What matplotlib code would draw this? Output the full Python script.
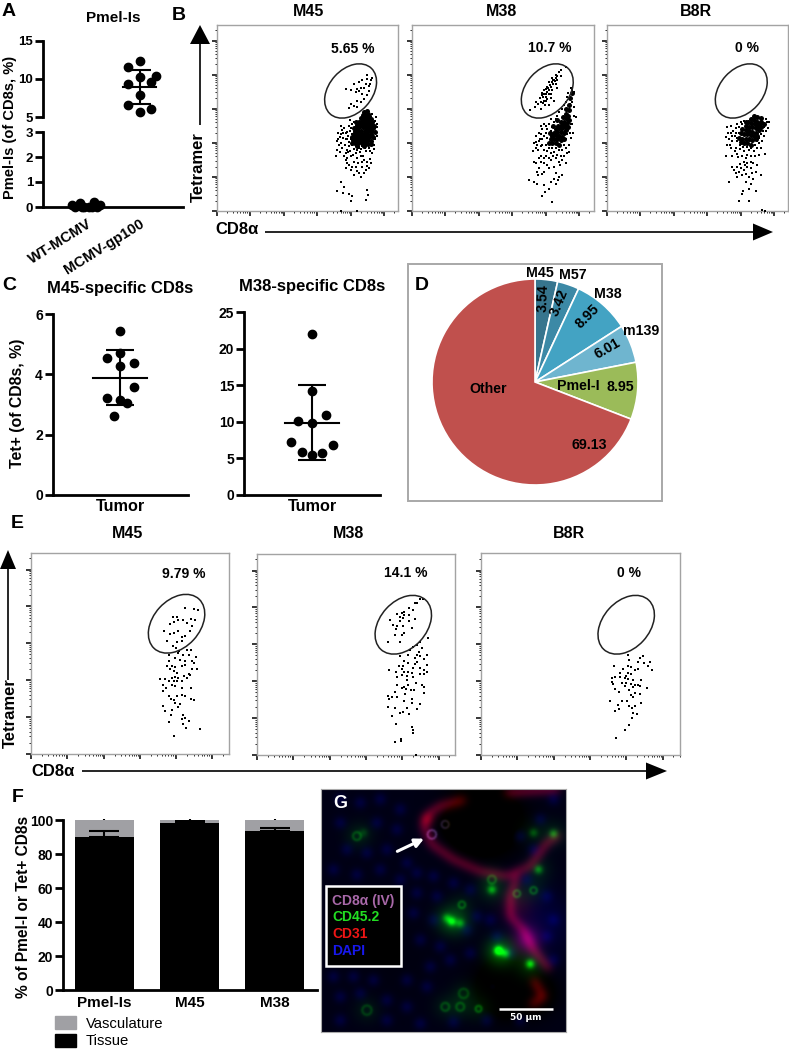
import numpy as np
import matplotlib
matplotlib.use("Agg")
import matplotlib.pyplot as plt
from matplotlib.patches import Ellipse, Rectangle, Polygon, Patch

plt.rcParams['font.family'] = ['Liberation Sans', 'DejaVu Sans']
W, H = 789, 1050
fig = plt.figure(figsize=(W/100, H/100), dpi=100)

# ---------- Panel A
A_cats = ['WT-MCMV', 'MCMV-gp100']
A_wt_x = [-0.29, -0.13, 0.13, 0.24, -0.22, -0.06, 0.03, 0.10, 0.19, -0.10]
A_wt_y = [0.08, 0.15, 0.21, 0.08, 0.02, 0.0, 0.02, 0.02, 0.02, 0.02]
A_gp_x = [0, -0.22, 0, 0.32, 0.22, -0.22, 0, -0.22, 0.22, 0]
A_gp_y = [12.3, 11.5, 10.2, 10.35, 9.55, 9.3, 7.85, 6.55, 6.1, 5.7]
A_gp_mean, A_gp_sd = 8.95, 2.27

# ---------- Panel C
C45_x = [0, 0, -13.3, 14, 0, 14, -13.3, 0, 7, -6.7]
C45_y = [5.43, 4.71, 4.53, 4.38, 4.27, 3.57, 3.2, 3.15, 3.05, 2.62]
C45_mean, C45_sd = 3.89, 0.91
C38_x = [0, 0, -13.7, 14, 0, -20.7, 20.7, -10.3, 10.3, 0]
C38_y = [22.08, 14.19, 10.17, 10.95, 9.85, 7.2, 6.8, 5.9, 5.7, 5.43]
C38_mean, C38_sd = 9.9, 5.15

# ---------- Panel D
D_labels = ['M45', 'M57', 'M38', 'm139', 'Pmel-I', 'Other']
D_values = [3.54, 3.42, 8.95, 6.01, 8.95, 69.13]
D_colors = ['#37758E', '#3C89A6', '#43A3C3', '#6FB5CF', '#9BBB59', '#C0504D']

# ---------- Panel F
F_cats = ['Pmel-Is', 'M45', 'M38']
F_tissue = [90.0, 98.2, 93.7]
F_vasc = [10.0, 1.8, 6.3]
F_err = [3.7, 1.0, 1.6]
F_vasc_err = [0.7, 0.5, 0.5]

# ---------- Flow cytometry events (decades CD8a, decades tetramer)
B45_core = [(4.40,2.90),(4.48,2.92),(4.52,2.85),(4.44,2.80),(4.36,2.82),(4.56,2.78),(4.30,2.72),(4.40,2.72),(4.50,2.70),(4.60,2.70),
 (4.24,2.62),(4.34,2.63),(4.44,2.62),(4.54,2.62),(4.64,2.60),(4.20,2.52),(4.30,2.54),(4.40,2.53),(4.50,2.52),(4.60,2.52),(4.70,2.50),
 (4.16,2.44),(4.26,2.45),(4.36,2.45),(4.46,2.44),(4.56,2.43),(4.66,2.42),(4.12,2.35),(4.22,2.36),(4.32,2.36),(4.42,2.36),(4.52,2.35),
 (4.62,2.34),(4.72,2.32),(4.10,2.26),(4.20,2.27),(4.30,2.27),(4.40,2.26),(4.50,2.26),(4.60,2.25),(4.14,2.17),(4.24,2.18),(4.34,2.18),
 (4.44,2.17),(4.54,2.17),(4.66,2.18),(4.08,2.08),(4.18,2.09),(4.28,2.09),(4.38,2.08),(4.50,2.08),(4.60,2.05),(4.03,2.0),(4.13,1.98),(4.23,1.98),
 (4.33,1.99),(4.43,1.98),(4.53,1.97),(4.62,1.96),(4.05,2.18),(4.1,2.42),(4.15,2.6),(4.2,1.9),(4.4,1.9)]
B45_pts = [(4.5,4.0),(4.35,3.83),(4.6,3.83),(4.45,3.73),(4.55,3.68),(4.25,3.78),(4.65,3.9),(4.4,3.61),(4.15,3.49),(4.25,3.52),(3.85,3.58),
 (4.0,3.55),(4.1,3.73),(4.5,3.39),(4.4,3.29),(4.2,3.24),(4.0,3.14),(4.1,3.09),(3.95,3.03),(4.3,3.19),(4.2,3.05),(4.55,3.53),(4.3,3.6),(4.48,3.88),
 (4.58,3.72),(4.35,3.42),(4.18,3.58),(3.7,2.5),(3.75,2.38),(3.62,2.3),(3.68,2.18),(3.58,2.05),(3.55,1.62),(3.6,1.78),(3.7,2.0),(3.78,2.15),
 (3.85,2.28),(3.9,2.1),(3.82,1.95),(3.75,1.85),(3.68,1.72),(3.85,1.7),(3.95,1.9),(3.98,1.75),(4.05,1.95),(4.1,1.82),(4.0,1.6),(3.9,1.55),(4.15,1.7),
 (4.25,1.85),(4.35,1.9),(4.45,1.75),(4.55,1.85),(4.65,1.7),(4.7,1.95),(4.78,2.2),(4.8,2.45),(4.75,2.75),(4.2,1.55),(4.3,1.6),(4.4,1.5),(4.5,1.45),
 (4.6,1.42),(4.1,1.45),(3.95,1.35),(4.0,1.2),(4.15,1.28),(4.25,1.1),(4.35,1.3),(4.45,1.2),(4.55,1.25),(4.3,1.0),(4.1,1.05),(3.85,1.25),(3.72,0.85),
 (3.8,0.7),(3.6,0.58),(3.78,0.52),(3.95,0.5),(4.05,0.45),(4.5,0.62),(4.52,0.47),(4.45,0.32),(4.0,0.3),(3.7,0.01),(4.2,0.01),(3.98,2.35),(3.92,2.2),(4.0,2.1),
 (3.95,2.5),(4.0,2.42),(4.05,2.55),(4.1,2.6),(3.9,2.32),(3.8,2.42),(3.85,2.1),(3.95,2.02),(4.05,2.25),(4.02,2.15),(3.88,1.8),(3.78,2.28),(3.72,2.25),
 (3.65,1.95),(3.62,2.12),(3.8,1.62),(3.92,1.72),(4.08,1.65),(4.15,1.92),(4.2,1.8),(4.28,1.72),(4.32,1.82),(4.42,1.85),(4.38,1.62),(4.5,1.95),(4.58,1.75),
 (4.62,1.95),(4.7,1.82),(4.72,2.1),(4.75,2.3),(4.78,2.55),(4.72,2.65),(4.65,2.85),(4.35,1.45),(4.22,1.4),(4.05,1.3),(4.48,1.32),(4.58,1.52),(3.9,1.42),
 (3.85,1.5),(4.18,1.18),(4.4,1.1),(3.98,2.68)]

B38_core = [(4.72,3.3),(4.78,3.45),(4.7,3.1),(4.62,3.0),(4.7,2.95),(4.6,2.85),(4.68,2.8),(4.52,2.75),(4.6,2.72),(4.7,2.68),(4.45,2.62),(4.55,2.62),
 (4.65,2.58),(4.38,2.5),(4.48,2.52),(4.58,2.5),(4.68,2.45),(4.3,2.4),(4.4,2.42),(4.5,2.42),(4.6,2.38),(4.25,2.3),(4.35,2.32),(4.45,2.32),(4.55,2.28),
 (4.2,2.2),(4.3,2.22),(4.4,2.2),(4.5,2.18),(4.15,2.1),(4.25,2.1),(4.35,2.1),(4.45,2.08),(4.1,2.0),(4.2,1.98),(4.3,1.98),(4.4,1.95),(4.55,2.12),(4.12,2.28),(4.22,2.48),(4.35,2.68)]
B38_pts = [(3.54,2.95),(3.69,3.05),(3.85,3.0),(3.95,3.24),(4.1,3.1),(3.9,3.39),(4.05,3.49),(3.95,3.54),(4.15,3.63),(4.1,3.78),(4.25,3.83),(4.35,3.97),
 (4.45,4.14),(4.6,4.22),(4.4,4.07),(4.3,3.73),(4.2,3.9),(4.05,3.65),(3.92,3.34),(4.05,3.29),(4.25,3.24),(3.76,3.14),(4.15,3.44),(4.0,3.44),(4.35,3.83),
 (4.0,3.58),(4.1,3.55),(4.22,3.72),(4.3,3.9),(4.12,3.7),(4.02,3.35),(3.85,3.2),(4.18,3.78),(3.98,3.12),
 (4.8,3.55),(4.85,3.5),(4.75,3.6),(4.65,3.35),(4.8,3.2),(4.85,3.05),(4.72,3.15),(4.85,2.8),(4.9,2.75),(4.8,2.55),(4.82,2.3),(4.75,2.15),(4.7,1.95),
 (4.65,1.7),(4.6,1.85),(4.7,1.72),(4.55,1.6),(3.95,2.55),(3.9,2.4),(4.0,2.3),(3.85,2.25),(3.8,2.05),(3.72,2.02),(3.75,1.95),(3.9,2.1),(3.85,1.9),
 (3.95,1.8),(4.05,1.75),(3.78,1.78),(4.0,1.6),(4.15,1.7),(4.25,1.72),(4.35,1.65),(4.45,1.6),(4.3,1.55),(4.15,1.5),(3.65,1.45),(3.72,1.4),(3.85,1.45),
 (3.95,1.4),(4.05,1.35),(3.8,1.25),(3.95,1.15),(4.1,1.25),(4.25,1.3),(4.42,1.35),(4.6,1.4),(3.75,1.15),(3.78,1.05),(3.9,1.08),(4.3,1.1),(4.4,1.0),
 (4.5,1.05),(4.25,0.95),(4.38,0.9),(3.5,0.92),(3.65,0.85),(3.75,0.8),(3.95,0.75),(4.15,0.85),(4.3,0.8),(4.1,0.65),(3.98,0.55),(3.88,0.45),(4.18,0.25),
 (4.0,2.5),(4.05,2.4),(4.1,2.55),(4.15,2.35),(4.2,2.45),(3.95,2.2),(4.05,2.15),(4.0,1.95),(3.9,1.95),(4.1,1.85),(4.2,1.85),(4.3,1.85),(4.4,1.8),(4.5,1.8),
 (4.55,1.95),(4.6,2.1),(4.65,2.25),(4.72,2.3),(4.75,2.55),(4.25,2.6),(4.3,2.7),(4.35,2.8),(4.4,2.9),(4.5,3.0),(4.55,3.1),(4.62,3.2),(4.68,3.45),(4.15,2.7),
 (3.85,2.5),(3.8,2.3),(3.82,2.12),(3.7,2.2),(3.65,2.0),(3.7,1.85),(3.62,1.75),(3.85,1.62),(3.95,1.55),(4.1,1.55),(4.22,1.6),(4.4,1.45),(4.5,1.5),(3.8,1.55),
 (3.82,3.3),(3.88,3.45),(3.95,3.42),(4.1,3.42),(4.2,3.55),(4.08,3.62),(4.28,3.8),(4.32,4.0),(4.45,3.95),(3.7,3.2),(3.92,3.18),(4.02,3.22),(4.15,3.3),(4.22,3.85),(4.35,3.62)]

B8R_core = [(4.4,2.8),(4.5,2.75),(4.6,2.72),(4.3,2.7),(4.4,2.68),(4.5,2.62),(4.6,2.6),(4.7,2.55),(4.22,2.6),(4.32,2.58),(4.42,2.55),(4.52,2.5),(4.62,2.45),
 (4.15,2.48),(4.25,2.47),(4.35,2.45),(4.45,2.42),(4.55,2.38),(4.05,2.4),(4.15,2.37),(4.25,2.35),(4.35,2.33),(4.45,2.3),(4.0,2.28),(4.1,2.25),(4.2,2.25),
 (4.3,2.22),(4.4,2.2),(3.95,2.15),(4.05,2.12),(4.15,2.12),(4.25,2.1),(4.35,2.08),(4.0,2.02),(4.1,2.0),(4.2,2.0),(4.3,1.95),(4.5,2.2),(4.55,2.52),(4.15,2.6),(4.45,2.12)]
B8R_pts = [(3.6,2.45),(3.72,2.48),(3.85,2.42),(3.9,2.55),(4.0,2.6),(4.75,2.7),(4.8,2.6),(4.85,2.62),(4.75,2.35),(4.7,2.2),(4.65,2.05),(4.6,1.85),(4.72,1.68),
 (3.55,2.18),(3.7,2.3),(3.65,2.1),(3.75,2.05),(3.82,2.2),(3.6,1.95),(3.72,1.85),(3.85,1.85),(3.98,1.82),(3.55,1.62),(3.75,1.6),(3.9,1.68),(4.1,1.75),(4.25,1.8),
 (4.4,1.75),(4.5,1.85),(4.55,1.65),(4.3,1.6),(4.15,1.55),(3.75,1.3),(3.8,1.2),(3.85,1.1),(3.95,1.15),(4.05,1.05),(3.9,1.0),(4.1,1.2),(4.2,1.3),(4.3,1.45),
 (4.35,1.1),(4.45,1.15),(4.6,1.05),(4.25,1.0),(4.38,0.95),(4.15,0.85),(4.3,0.8),(4.25,0.65),(3.65,0.85),(4.08,0.58),(4.05,0.5),(4.45,0.6),(3.95,0.28),
 (4.25,0.3),(4.65,0.02),(4.72,0.0),(3.95,2.3),(3.88,2.05),(3.78,2.35),(4.55,1.98),(4.7,2.45),(4.82,2.42),
 (3.95,2.45),(4.05,2.55),(4.1,2.65),(3.85,2.3),(3.88,2.55),(3.9,2.15),(3.98,1.95),(4.08,1.88),(4.18,1.88),(4.3,1.85),(4.42,1.95),(4.5,2.05),(4.55,2.15),
 (4.62,2.25),(4.68,2.35),(3.75,2.2),(3.68,1.95),(3.62,2.28),(3.82,1.75),(3.92,1.58),(4.05,1.6),(4.2,1.65),(4.42,1.6),(4.38,1.42),(4.1,1.45),(3.98,1.38),
 (3.88,1.3),(4.02,1.25),(4.15,1.08),(4.3,1.25),(4.5,1.35),(4.2,1.42),(4.12,1.35)]

E45_pts = [(4.25,3.96),(4.48,3.92),(4.59,3.89),(3.91,3.71),(4.02,3.71),(4.06,3.62),(3.82,3.51),(3.93,3.58),(4.18,3.62),(4.4,3.66),(4.52,3.62),(4.29,3.55),(4.43,3.48),
 (3.67,3.33),(3.82,3.25),(3.93,3.28),(4.04,3.33),(4.39,3.33),(4.16,3.16),(4.25,3.19),(3.76,3.06),(4.02,3.04),(4.16,3.07),(3.91,2.92),(4.0,2.86),
 (4.08,2.8),(4.29,2.83),(4.4,2.83),(4.06,2.74),(3.79,2.69),(4.2,2.69),(4.36,2.69),(4.55,2.62),(3.97,2.6),(4.11,2.56),(4.25,2.53),(4.43,2.51),(3.79,2.51),(4.5,2.47),
 (3.74,2.38),(3.88,2.38),(3.97,2.35),(4.16,2.38),(4.25,2.4),(4.43,2.31),(4.57,2.31),(3.83,2.29),(3.93,2.24),(4.02,2.2),(4.34,2.17),(4.39,2.15),(3.56,2.02),(3.7,2.04),
 (3.88,2.06),(3.97,2.08),(4.06,2.06),(4.22,2.11),(4.29,2.06),(3.79,1.99),(3.93,1.99),(4.02,1.97),(4.16,1.99),(3.65,1.88),(3.72,1.79),(3.65,1.72),(3.88,1.88),(3.97,1.84),
 (4.16,1.79),(4.4,1.79),(3.79,1.56),(3.85,1.5),(3.93,1.45),(4.02,1.56),(4.16,1.61),(4.25,1.58),(4.4,1.5),(4.5,1.47),(3.97,1.38),(4.11,1.36),(4.06,1.27),(3.65,1.29),
 (3.68,1.16),(3.88,1.18),(3.85,1.05),(4.2,1.07),(4.16,0.96),(4.25,0.98),(4.34,0.9),(3.81,0.87),(4.2,0.8),(4.27,0.71),(4.66,0.69),(3.95,0.5)]

E38_pts = [(4.57,4.23),(4.5,4.22),(4.42,4.13),(4.36,4.11),(4.2,3.98),(4.29,3.93),(4.06,3.88),(3.99,3.86),(3.87,3.82),(4.04,3.8),(4.2,3.79),(3.95,3.73),(4.02,3.71),(4.36,3.68),
 (3.67,3.66),(3.95,3.63),(4.2,3.63),(3.76,3.53),(3.87,3.5),(4.02,3.5),(4.28,3.45),(3.82,3.41),(4.04,3.3),(3.8,3.24),(3.99,3.25),(3.95,3.07),(3.61,3.05),
 (4.5,3.07),(4.4,2.98),(4.71,3.16),(4.31,2.94),(4.55,2.89),(4.22,2.85),(4.45,2.8),(3.95,2.67),(4.17,2.71),(4.4,2.71),(4.5,2.67),(4.68,2.71),(4.36,2.62),(4.59,2.6),(4.04,2.56),
 (4.4,2.53),(4.17,2.49),(4.36,2.47),(3.9,2.4),(4.02,2.41),(4.68,2.44),(4.5,2.35),(4.31,2.35),(4.59,2.31),(4.68,2.26),(3.65,2.29),(3.99,2.32),(3.83,2.26),(4.06,2.24),(4.17,2.26),
 (4.27,2.22),(4.5,2.2),(4.59,2.2),(3.99,2.17),(4.13,2.14),(3.85,2.11),(4.31,2.12),(4.13,2.03),(4.39,1.96),(3.85,1.9),(4.04,1.85),(4.17,1.9),(4.54,1.9),(4.59,1.84),(3.99,1.82),
 (4.11,1.79),(4.24,1.75),(4.33,1.75),(3.81,1.72),(4.59,1.69),(4.08,1.65),(3.62,1.6),(3.72,1.58),(3.87,1.56),(3.65,1.51),(4.06,1.46),(4.27,1.51),(4.28,1.4),(3.6,1.31),(4.48,1.37),
 (3.8,1.27),(4.13,1.27),(4.42,1.25),(3.95,1.15),(4.02,1.17),(4.2,1.1),(3.71,1.06),(3.82,0.84),(4.28,0.75),(4.29,0.68),(4.31,0.59),(3.98,0.43),(3.98,0.39),(3.81,0.35),(4.39,0.0)]

E8R_pts = [(4.06,2.72),(4.07,2.58),(4.46,2.69),(4.37,2.62),(4.32,2.53),(4.5,2.5),(4.66,2.51),(4.61,2.4),(3.67,2.42),(4.05,2.41),(4.12,2.38),(4.32,2.33),(4.23,2.31),(4.72,2.29),
 (3.91,2.32),(3.82,2.23),(4.05,2.22),(4.12,2.2),(4.0,2.14),(3.83,2.12),(3.7,2.12),(3.61,2.08),(3.96,2.08),(4.06,2.05),(4.18,2.02),(4.41,2.02),(3.61,1.99),(3.89,1.94),(4.0,1.96),
 (4.12,1.93),(4.23,1.9),(4.32,1.9),(4.39,1.88),(3.65,1.93),(3.98,1.87),(4.18,1.84),(4.57,1.82),(3.68,1.79),(3.8,1.72),(4.09,1.76),(4.25,1.67),(4.39,1.65),(4.14,1.63),(4.18,1.58),
 (3.56,1.46),(3.89,1.45),(4.02,1.47),(4.4,1.4),(3.77,1.36),(4.07,1.34),(4.25,1.33),(4.17,1.27),(3.79,1.25),(3.7,1.18),(4.2,1.15),(4.31,1.1),(4.15,0.99),(4.09,0.81),(3.96,0.68),(3.71,0.47)]

# ---------- Panel G (micrograph features, crop units)
G_nuclei = [(60,60),(120,70),(180,60),(240,90),(60,130),(170,130),(230,150),(80,210),(140,220),(200,210),(260,250),(40,270),(110,285),
 (180,270),(240,300),(290,280),(340,290),(400,310),(450,330),(290,340),(350,350),(280,400),(340,420),(470,410),(40,590),(100,590),(160,600),
 (60,650),(120,640),(200,660),(260,600),(320,620),(260,680),(330,560),(390,540),(450,520),(300,480),(360,500),(60,720),(200,720),(300,730),
 (400,725),(500,720),(600,720),(520,620),(510,420),(530,470),(440,450),(570,520),(620,300),(680,350),(700,420),(680,470),(700,540),(600,170),(660,120),(700,60),(640,210)]
G_red_paths = [[(430,62),(360,80),(325,105),(310,140),(335,195),(400,240),(480,275),(560,290),(630,260),(680,190),(720,165)],
 [(590,290),(570,350),(570,410),(610,450),(640,510),(690,570)],
 [(640,600),(670,650),(630,675)], [(560,40),(640,35),(720,30)]]
G_green_rings = [(110,170,12),(425,375,10),(430,640,14),(375,680,12),(420,680,12),(475,686,9),(140,690,14),(590,342,10),(640,332,10),(515,300,12)]
G_green_spots = [(395,425,.7),(380,415,.4),(420,430,.4),(535,512,1.1),(555,520,.5),(630,552,.7),(655,270,.4),(700,163,.4),(515,330,.5),(640,160,.25),(130,160,.15)]
G_legend = ['CD8α (IV)', 'CD45.2', 'CD31', 'DAPI']
G_legend_colors = ['#A868A8', '#22DD22', '#EE1515', '#1818EE']


def axpx(x0, y0, x1, y1, **kw):
    return fig.add_axes([x0/W, 1-y1/H, (x1-x0)/W, (y1-y0)/H], **kw)


def prism(ax, fs=10):
    for s in ['top', 'right']:
        ax.spines[s].set_visible(False)
    for s in ['left', 'bottom']:
        ax.spines[s].set_linewidth(2.0)
    ax.tick_params(width=2.0, length=5.5, labelsize=fs, pad=1.5)
    for t in ax.get_yticklabels():
        t.set_fontweight('bold')


DOT = 36
# A
a_up = axpx(43, 40.7, 183, 117)
a_lo = axpx(43, 132, 183, 207)
xl = (1-44/52.5, 1+96/52.5)
for ax in (a_up, a_lo):
    ax.set_xlim(*xl)
a_up.set_ylim(5, 15); a_up.set_yticks([5, 10, 15])
a_lo.set_ylim(0, 3); a_lo.set_yticks([0, 1, 2, 3])
prism(a_up, 9.5); prism(a_lo, 9.5)
a_up.spines['bottom'].set_visible(False)
a_up.set_xticks([])
a_lo.set_xticks([1, 2])
a_lo.set_xticklabels(A_cats, rotation=32, ha='right', rotation_mode='anchor', fontweight='bold', fontsize=10.5)
a_lo.tick_params(axis='x', length=0, pad=7)
a_up.scatter([2+v for v in A_gp_x], A_gp_y, s=DOT, c='k', zorder=3, clip_on=False)
a_lo.scatter([1+v for v in A_wt_x], A_wt_y, s=DOT, c='k', zorder=3, clip_on=False)
a_up.errorbar([2], [A_gp_mean], yerr=[A_gp_sd], color='k', lw=1.5, capsize=7.7, capthick=1.5)
a_up.plot([2-.32, 2+.32], [A_gp_mean]*2, color='k', lw=1.5)

# C
for box, xs, ys, m, sd, yl, tk in [((52.7, 314, 187.7, 495), C45_x, C45_y, C45_mean, C45_sd, 6, [0, 2, 4, 6]),
                                   ((244, 312.3, 380, 495), C38_x, C38_y, C38_mean, C38_sd, 25, [0, 5, 10, 15, 20, 25])]:
    ax = axpx(*box)
    ax.set_xlim(-68, 68)
    ax.set_ylim(0, yl); ax.set_yticks(tk)
    prism(ax)
    ax.set_xticks([0]); ax.set_xticklabels(['Tumor'], fontweight='bold', fontsize=11.7)
    ax.tick_params(axis='x', length=0, pad=3)
    ax.scatter(xs, ys, s=DOT, c='k', zorder=3, clip_on=False)
    ax.errorbar([0], [m], yerr=[sd], color='k', lw=1.5, capsize=10.3, capthick=1.5)
    ax.plot([-27, 27], [m, m], color='k', lw=1.5)

# F
f = axpx(63, 820, 317, 990)
f.set_xlim(1-(104.3-63)/85.2, 1+(317-104.3)/85.2)
f.set_ylim(0, 100); f.set_yticks([0, 20, 40, 60, 80, 100])
prism(f)
pos = [1, 2, 3]
b1 = f.bar(pos, F_tissue, width=0.69, color='k')
b2 = f.bar(pos, F_vasc, width=0.69, bottom=F_tissue, color='#A0A0A4')
f.errorbar(pos, F_tissue, yerr=[[0]*3, F_err], fmt='none', ecolor='k', elinewidth=1.5, capsize=10.5, capthick=1.5, zorder=4)
f.errorbar(pos, [100]*3, yerr=[[0]*3, F_vasc_err], fmt='none', ecolor='k', elinewidth=1.5, zorder=4, clip_on=False)
f.set_xticks(pos); f.set_xticklabels(F_cats, fontweight='bold', fontsize=11)
f.tick_params(axis='x', length=0, pad=4)
f.legend([Patch(color='#A0A0A4'), Patch(color='k')], ['Vasculature', 'Tissue'], loc='upper left',
         bbox_to_anchor=(55/W, 1-1016/H), bbox_transform=fig.transFigure, frameon=False, fontsize=10.7,
         handlelength=1.38, handleheight=1.0, labelspacing=0.2, handletextpad=0.7, borderpad=0, borderaxespad=0)

# D
d = axpx(432, 279, 638, 485)
wedges, _ = d.pie(D_values, colors=D_colors, startangle=90, counterclock=False,
                  wedgeprops=dict(edgecolor='white', linewidth=1.2), radius=1)
d.set_xlim(-1, 1); d.set_ylim(-1, 1)
for w_ in wedges:
    w_.set_clip_on(False)


# Flow panels
def flow(box, dx, dy, pts, core, gate, gate_y, ms):
    ax = axpx(*box)
    ax.set_xlim(0, (box[2]-box[0])/dx)
    ax.set_ylim(0, (box[3]-box[1])/dy)
    for s in ax.spines.values():
        s.set_color('#A3A3A3'); s.set_linewidth(1.0)
    dec = np.arange(0, 6)
    minor = [d_+np.log10(m) for d_ in dec for m in range(2, 10)]
    ax.set_xticks([v for v in dec if v < ax.get_xlim()[1]])
    ax.set_yticks([v for v in dec if v < ax.get_ylim()[1]])
    ax.set_xticks([v for v in minor if v < ax.get_xlim()[1]], minor=True)
    ax.set_yticks([v for v in minor if v < ax.get_ylim()[1]], minor=True)
    ax.tick_params(which='major', length=3.5, width=1.1, labelbottom=False, labelleft=False, color='k')
    ax.tick_params(which='minor', length=1.5, width=0.7, color='#222222')
    p = np.array(pts)
    ax.scatter(p[:, 0], p[:, 1], s=ms, c='k', marker='s', linewidths=0, clip_on=False, zorder=3)
    if core:
        c_ = np.array(core)
        ax.scatter(c_[:, 0], c_[:, 1], s=13, c='k', linewidths=0, zorder=3)
    ax.add_patch(Ellipse((gate, gate_y), 1.82, 1.28, angle=47, fill=False, ec='#222222', lw=1.1, zorder=4))
    return ax


flow((217, 25, 398, 211), 33.4, 34.1, B45_pts, B45_core, 4.0, 3.52, 3.4)
flow((412, 25, 594, 211), 33.4, 34.1, B38_pts, B38_core, 4.05, 3.52, 3.4)
flow((607, 25, 788, 211), 33.4, 34.1, B8R_pts, B8R_core, 4.02, 3.52, 3.4)
flow((31, 553, 229, 754), 36.3, 36.9, E45_pts, None, 4.01, 3.53, 4.6)
flow((257, 554, 455, 755), 36.3, 36.9, E38_pts, None, 4.03, 3.53, 4.6)
flow((481, 553, 680, 755), 36.3, 36.9, E8R_pts, None, 4.0, 3.53, 4.6)

# G
gx = axpx(321, 789, 566, 1032)
xs = np.arange(3, 738, 1.5)
ys = np.arange(27, 756, 1.5)
XX, YY = np.meshgrid(xs, ys)
R = np.zeros_like(XX); Gc = np.zeros_like(XX); Bc = np.full_like(XX, 0.08)


def blob(ch, x, y, amp, sig):
    ch += amp*np.exp(-((XX-x)**2+(YY-y)**2)/(2*sig**2))


for (x_, y_) in G_nuclei:
    blob(Bc, x_, y_, 0.15, 13)
for (x_, y_, a_, s_) in [(500, 120, -.25, 70), (560, 620, -.25, 60), (440, 120, -.15, 50), (650, 640, -.15, 40),
                         (660, 430, .15, 70), (220, 540, -.02, 90)]:
    blob(Bc, x_, y_, a_, s_)
for path in G_red_paths:
    for (a0, b0), (a1, b1_) in zip(path[:-1], path[1:]):
        n = int(np.hypot(a1-a0, b1_-b0)/6)+1
        for t in np.linspace(0, 1, n, endpoint=False):
            px_, py_ = a0+(a1-a0)*t, b0+(b1_-b0)*t
            blob(R, px_, py_, 0.05, 13)
            blob(Bc, px_, py_, 0.012, 16)
blob(R, 320, 120, .25, 15)
blob(R, 620, 480, .32, 30)
blob(Bc, 620, 480, .2, 25)
blob(R, 590, 380, .15, 35)
for (x_, y_, r_) in G_green_rings:
    for th in np.linspace(0, 2*np.pi, 12, endpoint=False):
        blob(Gc, x_+r_*np.cos(th), y_+r_*np.sin(th), 0.13, 3.5)
    blob(Gc, x_, y_, 0.08, 26)
for (x_, y_, a_) in G_green_spots:
    blob(Gc, x_, y_, a_, 9)
    blob(Gc, x_, y_, a_*.25, 28)
for (x_, y_, r_, a_) in [(335, 165, 13, .55), (375, 135, 11, .28)]:
    for th in np.linspace(0, 2*np.pi, 12, endpoint=False):
        px_, py_ = x_+r_*np.cos(th), y_+r_*np.sin(th)
        blob(R, px_, py_, a_*.35, 3); blob(Bc, px_, py_, a_*.45, 3); blob(Gc, px_, py_, a_*.25, 3)
img = np.clip(np.dstack([R, Gc, Bc]), 0, 1)
gx.imshow(img, extent=(3, 738, 756, 27), aspect='auto', interpolation='bilinear')
gx.set_xticks([]); gx.set_yticks([])
for s in gx.spines.values():
    s.set_color('#AAAAAA'); s.set_linewidth(0.8)
gx.annotate('', xy=(312, 176), xytext=(232, 214),
            arrowprops=dict(arrowstyle='-|>', color='white', lw=2.2, mutation_scale=13, shrinkA=0, shrinkB=0))
gx.add_patch(Rectangle((17, 318), 227, 240, fc='black', ec='white', lw=1.8, zorder=3))
for lab, col, yy in zip(G_legend, G_legend_colors, [362, 410, 462, 514]):
    gx.text(36, yy, lab, color=col, fontsize=10, fontweight='bold', va='center', ha='left', zorder=4)
gx.plot([537, 698], [687, 687], color='white', lw=1.8, solid_capstyle='butt')
gx.text(617, 712, '50 μm', color='white', fontsize=6.5, fontweight='bold', ha='center', va='center', family='DejaVu Sans')
gx.text(60, 70, 'G', color='white', fontsize=13, fontweight='bold', ha='center', va='center')

# Overlay in pixel coordinates
ov = fig.add_axes([0, 0, 1, 1], zorder=10)
ov.set_xlim(0, W); ov.set_ylim(H, 0); ov.axis('off'); ov.patch.set_alpha(0)


def T(x, y, s, fs=9, **kw):
    kw.setdefault('fontweight', 'bold')
    kw.setdefault('ha', 'center'); kw.setdefault('va', 'center')
    ov.text(x, y, s, fontsize=fs, **kw)


def arrow_v(x, top, base, end, hw):
    ov.plot([x, x], [base, end], color='k', lw=1.2, solid_capstyle='butt')
    ov.add_patch(Polygon([(x, top), (x-hw, base), (x+hw, base)], fc='k', ec='none'))


def arrow_h(y, x0, base, tip, hh):
    ov.plot([x0, base], [y, y], color='k', lw=1.2, solid_capstyle='butt')
    ov.add_patch(Polygon([(tip, y), (base, y-hh), (base, y+hh)], fc='k', ec='none'))


for x_, y_, s_ in [(9, 12, 'A'), (179, 15, 'B'), (9, 285, 'C'), (422, 285, 'D'), (17, 524, 'E'), (18, 798, 'F')]:
    T(x_, y_, s_, 14)
T(113, 18, 'Pmel-Is', 11)
T(10.5, 127, 'Pmel-Is (of CD8s, %)', 10.5, rotation=90)
T(120, 288, 'M45-specific CD8s', 12)
T(312, 286, 'M38-specific CD8s', 12)
T(18, 403, 'Tet+ (of CD8s, %)', 11.4, rotation=90)
T(24, 907, '% of Pmel-I or Tet+ CD8s', 11.2, rotation=90)

# flow labels
for x_, y_, s_ in [(309, 11, 'M45'), (502, 11, 'M38'), (696, 11, 'B8R'), (128, 534, 'M45'), (349, 534, 'M38'), (569, 534, 'B8R')]:
    T(x_, y_, s_, 11.5)
for x_, y_, s_ in [(353, 49, '5.65 %'), (550, 48, '10.7 %'), (747, 48, '0 %'), (184, 574, '9.79 %'), (406, 573, '14.1 %'), (629, 573, '0 %')]:
    T(x_, y_, s_, 10)
arrow_v(200, 25, 44, 125, 10)
T(198, 167, 'Tetramer', 12, rotation=90)
T(237, 229, 'CD8α', 12)
arrow_h(232, 265, 753, 773, 8.5)
arrow_v(8, 550, 569, 680, 8)
T(10, 713, 'Tetramer', 12, rotation=90)
T(53, 772, 'CD8α', 12)
arrow_h(771, 82, 646, 667, 8.5)

# pie labels
ov.add_patch(Rectangle((408, 264), 254, 237, fill=False, ec='#A8A8A8', lw=1.4))
for x_, y_, s_ in [(540, 273, 'M45'), (573, 275, 'M57'), (608, 294, 'M38'), (641, 331, 'm139'),
                   (578, 386, 'Pmel-I'), (620, 387, '8.95'), (488, 389, 'Other'), (589, 445, '69.13')]:
    T(x_, y_, s_, 10.2)
for x_, y_, s_, r_ in [(543, 298, '3.54', 88), (559, 303, '3.42', 68), (587, 316, '8.95', 45), (607, 349, '6.01', 30)]:
    T(x_, y_, s_, 10.2, rotation=r_)

fig.savefig('out.png', dpi=100)
